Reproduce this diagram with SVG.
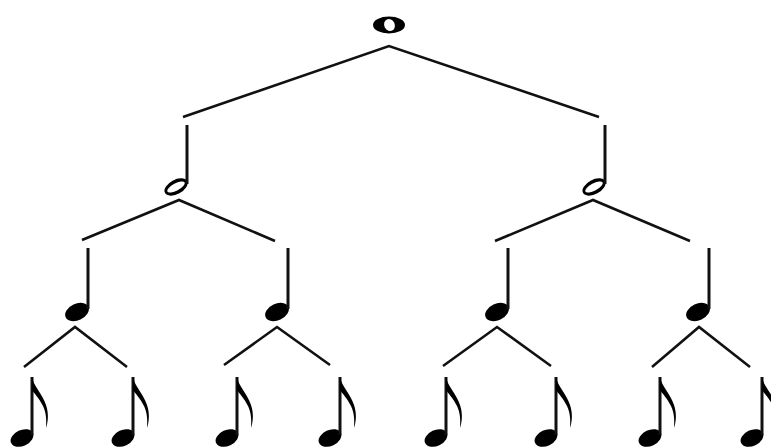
<svg xmlns="http://www.w3.org/2000/svg" xmlns:xlink="http://www.w3.org/1999/xlink" width="771" height="448" viewBox="0 0 771 448">
<style>
.c{fill:none;stroke:#111;stroke-width:2.6;stroke-linecap:butt;stroke-linejoin:miter}
.stem{stroke:#111;stroke-width:3}
.ink{fill:#000}
.paper{fill:#fff}
</style>
<defs>
<g id="half">
<ellipse cx="0" cy="0" rx="12.5" ry="7.2" transform="rotate(-28)" class="ink"/>
<ellipse cx="0" cy="0" rx="9.8" ry="3.6" transform="rotate(-28)" class="paper"/>
<line x1="11" y1="-3" x2="11" y2="-62" class="stem"/>
</g>
<g id="quarter">
<ellipse cx="0" cy="0" rx="12.5" ry="8.3" transform="rotate(-25)" class="ink"/>
<line x1="11" y1="-3" x2="11" y2="-64" class="stem"/>
</g>
<g id="eighth">
<ellipse cx="0" cy="0" rx="12" ry="8" transform="rotate(-25)" class="ink"/>
<line x1="10" y1="-3" x2="10" y2="-61" class="stem"/>
<path d="M10,-61 C12,-51 20,-45 24,-33 C27,-24 26,-16 24,-10 C24.5,-17 24.5,-25 21,-32 C17,-40 12,-45 10,-48 Z" class="ink"/>
</g>
</defs>
<g id="connectors">
<polyline class="c" points="183,117 389,46 599,117"/>
<polyline class="c" points="82,240 179,200 275,241"/>
<polyline class="c" points="495,241 593,200 690,241"/>
<polyline class="c" points="24,367 75,327 127,367"/>
<polyline class="c" points="224,365 277,327 330,365"/>
<polyline class="c" points="443,366 497,327 551,366"/>
<polyline class="c" points="652,367 699,327 750,367"/>
</g>
<g id="whole">
<ellipse cx="389" cy="25" rx="16" ry="8.5" class="ink"/>
<ellipse cx="389.5" cy="25" rx="5.2" ry="6.2" transform="rotate(-25 389.5 25)" class="paper"/>
</g>
<g id="half1"><use xlink:href="#half" x="176" y="187"/></g>
<g id="half2"><use xlink:href="#half" x="594" y="187"/></g>
<g id="quarter1"><use xlink:href="#quarter" x="77" y="312"/></g>
<g id="quarter2"><use xlink:href="#quarter" x="277" y="312"/></g>
<g id="quarter3"><use xlink:href="#quarter" x="497" y="312"/></g>
<g id="quarter4"><use xlink:href="#quarter" x="698" y="312"/></g>
<g id="eighth1"><use xlink:href="#eighth" x="22" y="438"/></g>
<g id="eighth2"><use xlink:href="#eighth" x="123" y="438"/></g>
<g id="eighth3"><use xlink:href="#eighth" x="227" y="438"/></g>
<g id="eighth4"><use xlink:href="#eighth" x="330" y="438"/></g>
<g id="eighth5"><use xlink:href="#eighth" x="436" y="438"/></g>
<g id="eighth6"><use xlink:href="#eighth" x="546" y="438"/></g>
<g id="eighth7"><use xlink:href="#eighth" x="650" y="438"/></g>
<g id="eighth8"><use xlink:href="#eighth" x="752" y="438"/></g>
</svg>
